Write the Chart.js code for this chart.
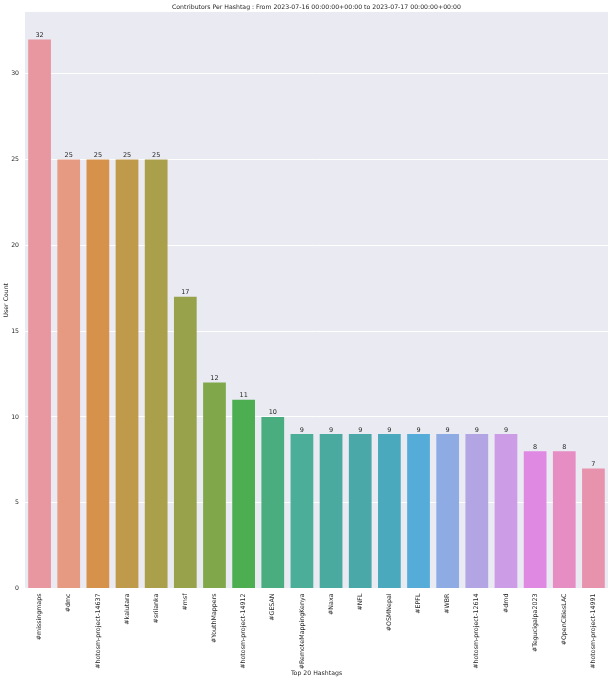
<!DOCTYPE html>
<html>
<head>
<meta charset="utf-8">
<script src="https://cdn.jsdelivr.net/npm/chart.js@4.4.0/dist/chart.umd.min.js"></script>
<style>
  html, body { margin: 0; padding: 0; background: #fff; }
  #wrap { width: 608px; height: 680px; }
</style>
</head>
<body>
<div id="wrap"><canvas id="chart"></canvas></div>
<script>
const hashtags = [
  "#missingmaps", "#dmc", "#hotosm-project-14637", "#kalutara", "#srilanka",
  "#msf", "#YouthMappers", "#hotosm-project-14912", "#GESAN", "#RemoteMappingKenya",
  "#Naxa", "#NFL", "#OSMNepal", "#EPFL", "#WBR",
  "#hotosm-project-12614", "#dmd", "#Tegucigalpa2023", "#OpenCitiesLAC", "#hotosm-project-14991"
]
const userCounts = [32, 25, 25, 25, 25, 17, 12, 11, 10, 9, 9, 9, 9, 9, 9, 9, 9, 8, 8, 7]
const barColors = [
  "#e8969f", "#e69a82", "#d6924b", "#bf9a4a", "#aa9f4a",
  "#98a24a", "#80a84a", "#4cae51", "#4aad7f", "#4aae98",
  "#4aaa9f", "#4aa8a8", "#4ba9bd", "#55acd8", "#8fabe4",
  "#b3a5e4", "#cc9de6", "#e089e2", "#e68dc4", "#e893ae"
]
const yTicks = [0, 5, 10, 15, 20, 25, 30]

const font = "'DejaVu Sans', sans-serif"
const textColor = "#262626"

// grey panel behind the bars, like seaborn darkgrid
const panelBg = {
  id: "panelBg",
  beforeDraw(chart) {
    const { ctx, chartArea } = chart
    ctx.save()
    ctx.fillStyle = "#eaeaf2"
    ctx.fillRect(chartArea.left, chartArea.top, chartArea.right - chartArea.left, chartArea.bottom - chartArea.top)
    ctx.restore()
  },
}

// value written over each bar
const barValues = {
  id: "barValues",
  afterDatasetsDraw(chart) {
    const { ctx } = chart
    const meta = chart.getDatasetMeta(0)
    ctx.save()
    ctx.font = "6.5px " + font
    ctx.fillStyle = textColor
    ctx.textAlign = "center"
    ctx.textBaseline = "bottom"
    meta.data.forEach((bar, i) => {
      ctx.fillText(String(userCounts[i]), bar.x, bar.y - 1)
    })
    ctx.restore()
  },
}

new Chart(document.getElementById("chart"), {
  type: "bar",
  data: {
    labels: hashtags,
    datasets: [
      {
        data: userCounts,
        backgroundColor: barColors,
        borderWidth: 0,
        barPercentage: 0.78,
        categoryPercentage: 1.0,
      },
    ],
  },
  options: {
    responsive: true,
    maintainAspectRatio: false,
    animation: false,
    layout: { padding: 0 },
    plugins: {
      legend: { display: false },
      tooltip: { enabled: false },
      title: {
        display: true,
        fullSize: false,
        text: "Contributors Per Hashtag : From 2023-07-16 00:00:00+00:00 to 2023-07-17 00:00:00+00:00",
        color: textColor,
        font: { family: font, size: 6.2, weight: "normal" },
        padding: { top: 3.5, bottom: 1 },
      },
    },
    scales: {
      x: {
        grid: { display: false },
        border: { display: false },
        ticks: {
          color: textColor,
          font: { family: font, size: 6.3 },
          minRotation: 90,
          maxRotation: 90,
          autoSkip: false,
          padding: -3,
        },
        title: {
          display: true,
          text: "Top 20 Hashtags",
          color: textColor,
          font: { family: font, size: 6.2 },
          padding: { top: 0, bottom: 3 },
        },
        afterFit(scale) {
          scale.height = 91.5
        },
      },
      y: {
        min: 0,
        max: 33.6,
        afterBuildTicks(scale) {
          scale.ticks = yTicks.map(v => ({ value: v }))
        },
        grid: { color: "#ffffff", lineWidth: 1, drawTicks: false },
        border: { display: false },
        ticks: {
          color: textColor,
          font: { family: font, size: 6.2 },
          padding: 6,
        },
        title: {
          display: true,
          text: "User Count",
          color: textColor,
          font: { family: font, size: 6.2 },
          padding: { top: 3, bottom: 0 },
        },
        afterFit(scale) {
          scale.width = 25
        },
      },
    },
  },
  plugins: [panelBg, barValues],
})
</script>
</body>
</html>
